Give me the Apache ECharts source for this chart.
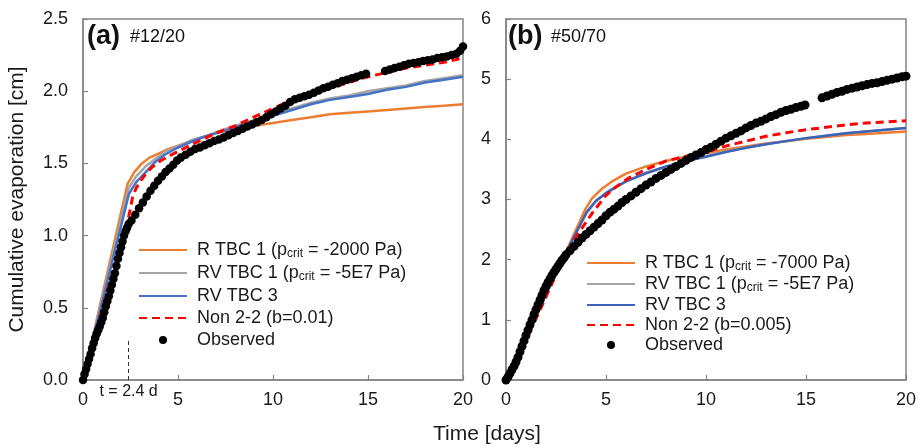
<!DOCTYPE html>
<html>
<head>
<meta charset="utf-8">
<script src="https://cdn.jsdelivr.net/npm/echarts@6/dist/echarts.min.js"></script>
<style>html,body{margin:0;padding:0;background:#fff}#c{width:921px;height:448px}</style>
</head>
<body>
<div id="c"></div>
<script>
const xTicks = [0, 5, 10, 15, 20];
const yTicksA = ['0.0', '0.5', '1.0', '1.5', '2.0', '2.5'];
const yTicksB = ['0', '1', '2', '3', '4', '5', '6'];

// ---------- Panel (a) #12/20 ----------
const rTbcA = [[0,0],[2.35,1.36],[2.7,1.44],[3.1,1.50],[3.5,1.54],[4.0,1.57],[4.5,1.60],[5.4,1.64],[6.0,1.67],[7.0,1.71],[8.0,1.74],[9.0,1.76],[10,1.78],[11,1.80],[12,1.82],[13,1.84],[14,1.85],[15,1.86],[16,1.87],[17,1.88],[18,1.89],[19,1.90],[20,1.91]];
const rvTbc1A = [[0,0],[2.4,1.33],[2.8,1.41],[3.3,1.48],[3.8,1.53],[4.3,1.58],[5.0,1.62],[5.7,1.66],[6.5,1.69],[7.3,1.73],[8.0,1.76],[9.0,1.80],[10,1.84],[11,1.88],[12,1.92],[13,1.95],[14,1.97],[15,2.00],[16,2.02],[17,2.04],[18,2.07],[19,2.09],[20,2.11]];
const rvTbc3A = [[0,0],[2.42,1.29],[2.8,1.37],[3.3,1.44],[3.8,1.51],[4.3,1.56],[5.0,1.61],[5.7,1.65],[6.5,1.69],[7.3,1.72],[8.0,1.75],[9.0,1.79],[10,1.83],[11,1.87],[12,1.91],[13,1.94],[14,1.96],[15,1.98],[16,2.01],[17,2.03],[18,2.06],[19,2.08],[20,2.10]];
const nonA = [[0,0],[0.5,0.24],[1.0,0.48],[1.5,0.72],[2.0,0.94],[2.3,1.07],[2.5,1.19],[2.6,1.26],[2.8,1.33],[3.2,1.41],[3.6,1.47],[4.1,1.52],[5.1,1.59],[6.2,1.66],[7.0,1.71],[8.0,1.76],[9.3,1.84],[10,1.88],[11,1.94],[12,1.98],[13,2.02],[14,2.06],[15,2.10],[16,2.13],[17,2.16],[18,2.18],[19,2.20],[20,2.23]];
const obsA = [[0,0],[0.08,0.04],[0.16,0.075],[0.24,0.11],[0.32,0.145],[0.40,0.18],[0.48,0.22],[0.56,0.255],[0.64,0.29],[0.72,0.32],[0.80,0.345],[0.88,0.37],[0.96,0.40],[1.04,0.43],[1.12,0.47],[1.20,0.51],[1.28,0.545],[1.36,0.58],[1.44,0.62],[1.52,0.66],[1.60,0.70],[1.68,0.74],[1.76,0.79],[1.84,0.84],[1.92,0.88],[2.00,0.92],[2.08,0.96],[2.16,1.00],[2.24,1.03],[2.32,1.055],[2.40,1.08],
  [2.55,1.105],[2.75,1.145],[2.95,1.19],[3.15,1.23],[3.35,1.27],[3.55,1.31],[3.75,1.345],[3.95,1.38],[4.15,1.41],[4.35,1.44],[4.55,1.465],[4.75,1.49],[4.95,1.52],[5.15,1.54],[5.4,1.56],[5.65,1.58],[5.9,1.60],[6.15,1.61],[6.4,1.625],[6.65,1.64],[6.9,1.655],[7.15,1.665],[7.4,1.68],[7.65,1.695],[7.9,1.71],[8.15,1.725],[8.4,1.74],[8.65,1.755],[8.9,1.77],[9.15,1.785],[9.4,1.80],[9.65,1.82],[9.9,1.84],[10.15,1.86],[10.4,1.88],[10.65,1.90],[10.9,1.925],[11.15,1.945],[11.4,1.955],[11.65,1.965],[11.9,1.975],[12.15,1.99],[12.4,2.005],[12.65,2.02],[12.9,2.03],[13.15,2.045],[13.4,2.055],[13.65,2.07],[13.9,2.08],[14.15,2.09],[14.4,2.10],[14.65,2.11],[14.9,2.12],
  [15.9,2.14],[16.15,2.15],[16.4,2.16],[16.65,2.17],[16.9,2.18],[17.15,2.19],[17.4,2.195],[17.65,2.20],[17.9,2.21],[18.15,2.215],[18.4,2.22],[18.65,2.23],[18.9,2.235],[19.15,2.24],[19.4,2.25],[19.65,2.26],[19.85,2.28],[20.0,2.31]];
const markA = [[2.4, 0], [2.4, 0.29]];

// ---------- Panel (b) #50/70 ----------
const rTbcB = [[0,0],[1,0.71],[2,1.42],[3,2.13],[3.97,2.84],[4.3,3.02],[4.8,3.18],[5.3,3.30],[6.0,3.43],[7.0,3.55],[8.0,3.64],[9.0,3.71],[10,3.77],[11,3.83],[12,3.88],[13,3.93],[14,3.97],[15,4.01],[16,4.04],[17,4.07],[18,4.09],[19,4.11],[20,4.13]];
const rvTbc1B = [[0,0],[1,0.71],[2,1.42],[3,2.12],[4.0,2.76],[4.5,2.97],[5.0,3.10],[5.5,3.20],[6.0,3.30],[7.0,3.43],[8.0,3.54],[9.0,3.64],[10,3.72],[11,3.80],[12,3.86],[13,3.92],[14,3.97],[15,4.02],[16,4.06],[17,4.10],[18,4.13],[19,4.16],[20,4.19]];
const rvTbc3B = [[0,0],[1,0.71],[2,1.42],[3,2.12],[4.05,2.80],[4.5,2.98],[5.0,3.11],[5.5,3.21],[6.0,3.30],[7.0,3.44],[8.0,3.55],[9.0,3.64],[10,3.71],[11,3.79],[12,3.86],[13,3.92],[14,3.97],[15,4.02],[16,4.06],[17,4.10],[18,4.13],[19,4.16],[20,4.19]];
const nonB = [[0,0],[0.5,0.33],[1.0,0.67],[1.5,1.02],[2.0,1.38],[2.5,1.75],[3.0,2.10],[3.5,2.38],[4.0,2.62],[4.3,2.77],[5.0,3.07],[5.5,3.21],[6.1,3.35],[7.0,3.50],[8.0,3.64],[9.0,3.72],[10,3.79],[11,3.89],[12,3.97],[13,4.05],[14,4.11],[15,4.16],[16,4.20],[17,4.24],[18,4.27],[19,4.29],[20,4.31]];
const obsB = [[0,0],[0.1,0.05],[0.2,0.11],[0.3,0.17],[0.4,0.23],[0.5,0.30],[0.6,0.38],[0.7,0.47],[0.8,0.56],[0.9,0.65],[1.0,0.74],[1.1,0.83],[1.2,0.92],[1.3,1.00],[1.4,1.09],[1.5,1.17],[1.6,1.25],[1.7,1.33],[1.8,1.41],[1.9,1.49],[2.0,1.56],[2.1,1.62],[2.2,1.68],[2.3,1.74],[2.4,1.79],[2.5,1.84],[2.6,1.89],[2.7,1.94],[2.8,1.99],[2.9,2.03],[3.0,2.08],
  [3.2,2.15],[3.4,2.22],[3.6,2.29],[3.8,2.36],[4.0,2.42],[4.2,2.48],[4.4,2.54],[4.6,2.60],[4.8,2.66],[5.0,2.73],[5.2,2.79],[5.4,2.84],[5.6,2.89],[5.8,2.95],[6.0,3.00],[6.25,3.06],[6.5,3.12],[6.75,3.18],[7.0,3.24],[7.25,3.29],[7.5,3.35],[7.75,3.40],[8.0,3.45],[8.25,3.50],[8.5,3.55],[8.75,3.60],[9.0,3.65],[9.25,3.70],[9.5,3.74],[9.75,3.78],[10.0,3.83],[10.25,3.87],[10.5,3.92],[10.75,3.97],[11.0,4.02],[11.25,4.06],[11.5,4.10],[11.75,4.14],[12.0,4.19],[12.25,4.23],[12.5,4.27],[12.75,4.30],[13.0,4.34],[13.25,4.38],[13.5,4.41],[13.75,4.45],[14.0,4.48],[14.25,4.50],[14.5,4.53],[14.75,4.55],[14.95,4.57],
  [15.8,4.69],[16.05,4.72],[16.3,4.75],[16.55,4.78],[16.8,4.80],[17.05,4.83],[17.3,4.85],[17.55,4.87],[17.8,4.89],[18.05,4.91],[18.3,4.93],[18.55,4.94],[18.8,4.96],[19.05,4.98],[19.3,5.00],[19.55,5.02],[19.8,5.04],[20.0,5.05]];

const legendText = {
  aR: '{n|R TBC 1 (p}{s|crit}{n| = -2000 Pa)}',
  aRV1: '{n|RV TBC 1 (p}{s|crit}{n| = -5E7 Pa)}',
  aRV3: '{n|RV TBC 3}',
  aNon: '{n|Non 2-2 (b=0.01)}',
  aObs: '{n|Observed}',
  bR: '{n|R TBC 1 (p}{s|crit}{n| = -7000 Pa)}',
  bRV1: '{n|RV TBC 1 (p}{s|crit}{n| = -5E7 Pa)}',
  bRV3: '{n|RV TBC 3}',
  bNon: '{n|Non 2-2 (b=0.005)}',
  bObs: '{n|Observed}'
};

const FONT = 'Liberation Sans, Arial, sans-serif';
const TXT = '#1a1a1a';
const FRAME = '#858585';
const C_OR = '#ED7D31', C_GR = '#A5A5A5', C_BL = '#4472C4', C_BL2 = '#3B64B8', C_RED = '#FF0000';

function xAxis(gi) {
  return {
    type: 'value', gridIndex: gi, min: 0, max: 20, interval: 5,
    axisLine: {show: true, lineStyle: {color: FRAME, width: 1.5}},
    axisTick: {show: true, inside: true, length: 5, lineStyle: {color: FRAME, width: 1.2}},
    axisLabel: {color: TXT, fontFamily: FONT, fontSize: 18, margin: 11,
      formatter: v => String(xTicks[xTicks.indexOf(v)])},
    splitLine: {show: false}
  };
}
function yAxis(gi, max, interval, labels, name) {
  const o = {
    type: 'value', gridIndex: gi, min: 0, max: max, interval: interval,
    axisLine: {show: true, lineStyle: {color: FRAME, width: 1.5}},
    axisTick: {show: true, inside: true, length: 5, lineStyle: {color: FRAME, width: 1.2}},
    axisLabel: {color: TXT, fontFamily: FONT, fontSize: 18, margin: 15,
      formatter: v => labels[Math.round(v / interval)]},
    splitLine: {show: false}
  };
  if (name) {
    o.name = name; o.nameLocation = 'middle'; o.nameGap = 55;
    o.nameTextStyle = {color: TXT, fontFamily: FONT, fontSize: 21};
  }
  return o;
}
function lineS(name, data, color, gi, dashed, width) {
  return {
    name: name, type: 'line', xAxisIndex: gi, yAxisIndex: gi, data: data,
    symbol: 'none', smooth: false, silent: true,
    lineStyle: {color: color, width: width || 2.5, type: dashed ? [8, 5] : 'solid'},
    itemStyle: {color: color}
  };
}
function obsS(name, data, gi, size) {
  return {
    name: name, type: 'scatter', xAxisIndex: gi, yAxisIndex: gi, data: data,
    symbol: 'circle', symbolSize: size, itemStyle: {color: '#000', opacity: 1}, z: 5, silent: true
  };
}
function legend(names, left, top, gap) {
  return {
    orient: 'vertical', left: left, top: top, itemWidth: 48, itemHeight: 8, itemGap: gap,
    data: names.map((n, i) => i < 4 ? {name: n, itemStyle: {opacity: 0}} : {name: n}),
    selectedMode: false,
    formatter: n => legendText[n],
    textStyle: {color: TXT, fontFamily: FONT, fontSize: 18, padding: [0, 0, 0, 5],
      rich: {
        n: {color: TXT, fontFamily: FONT, fontSize: 18, lineHeight: 20},
        s: {color: TXT, fontFamily: FONT, fontSize: 12, lineHeight: 12, verticalAlign: 'bottom'}
      }}
  };
}

const serAOr = lineS('aR', rTbcA, C_OR, 0, false);
serAOr.markLine = {
  silent: true, symbol: 'none',
  lineStyle: {color: '#333', type: [4, 3], width: 1},
  label: {show: true, position: 'start', formatter: 't = 2.4 d', color: TXT, fontFamily: FONT, fontSize: 16, distance: 4},
  data: [[{coord: markA[0]}, {coord: markA[1]}]]
};

const option = {
  animation: false,
  backgroundColor: '#fff',
  grid: [
    {left: 83, top: 19, width: 380, height: 361, show: true, borderColor: FRAME, borderWidth: 1.5, backgroundColor: 'transparent'},
    {left: 506, top: 19, width: 400, height: 361, show: true, borderColor: FRAME, borderWidth: 1.5, backgroundColor: 'transparent'}
  ],
  xAxis: [xAxis(0), xAxis(1)],
  yAxis: [yAxis(0, 2.5, 0.5, yTicksA, 'Cumulative evaporation [cm]'), yAxis(1, 6, 1, yTicksB, null)],
  legend: [
    legend(['aR', 'aRV1', 'aRV3', 'aNon', 'aObs'], 133, 236, 4),
    legend(['bR', 'bRV1', 'bRV3', 'bNon', 'bObs'], 581, 249, 2)
  ],
  graphic: [
    {type: 'text', left: 87, top: 23, style: {text: '(a)', font: 'bold 27px ' + FONT, fill: '#111'}},
    {type: 'text', left: 130, top: 28, style: {text: '#12/20', font: '18px ' + FONT, fill: '#111'}},
    {type: 'text', left: 508, top: 23, style: {text: '(b)', font: 'bold 27px ' + FONT, fill: '#111'}},
    {type: 'text', left: 551, top: 28, style: {text: '#50/70', font: '18px ' + FONT, fill: '#111'}},
    {type: 'text', left: 433, top: 424, style: {text: 'Time [days]', font: '21px ' + FONT, fill: TXT}}
  ],
  series: [
    serAOr,
    lineS('aRV1', rvTbc1A, C_GR, 0, false),
    lineS('aRV3', rvTbc3A, C_BL, 0, false),
    lineS('aNon', nonA, C_RED, 0, true, 3),
    obsS('aObs', obsA, 0, 8.5),
    lineS('bR', rTbcB, C_OR, 1, false),
    lineS('bRV1', rvTbc1B, C_GR, 1, false),
    lineS('bRV3', rvTbc3B, C_BL2, 1, false),
    lineS('bNon', nonB, C_RED, 1, true, 3),
    obsS('bObs', obsB, 1, 9)
  ]
};
const chart = echarts.init(document.getElementById('c'), null, {renderer: 'canvas'});
chart.setOption(option);
</script>
</body>
</html>
